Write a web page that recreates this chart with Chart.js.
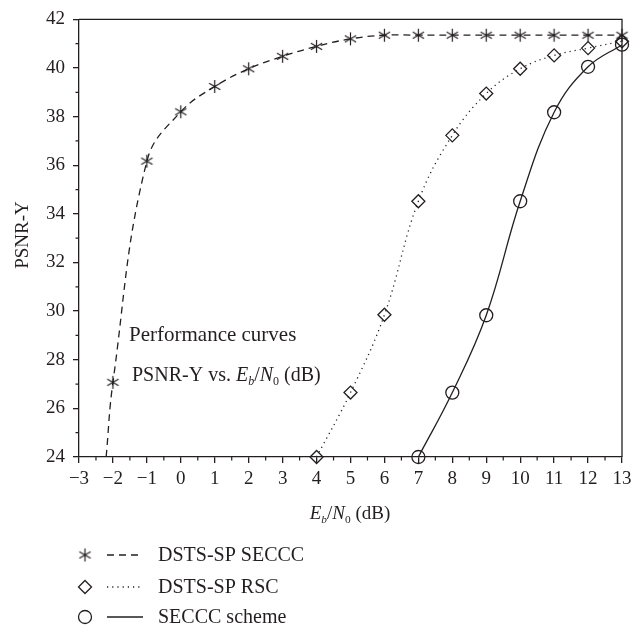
<!DOCTYPE html>
<html>
<head>
<meta charset="utf-8">
<script src="https://cdn.jsdelivr.net/npm/chart.js@4.4.0/dist/chart.umd.min.js"></script>
<style>
  html, body { margin: 0; padding: 0; background: #fff; }
</style>
</head>
<body>
<canvas id="chart" width="644" height="631"></canvas>
<script>
// data (Eb/N0 in dB, PSNR-Y in dB)
var ebnoSECCC = [-2.2, -2, -1, 0, 1, 2, 3, 4, 5, 6, 7, 8, 9, 10, 11, 12, 13]
var psnrSECCC = [24, 27.07, 36.17, 38.2, 39.24, 39.97, 40.48, 40.89, 41.2, 41.35, 41.35, 41.35, 41.35, 41.35, 41.35, 41.35, 41.35]

var ebnoRSC = [4, 5, 6, 7, 8, 9, 10, 11, 12, 13]
var psnrRSC = [24, 26.65, 29.85, 34.52, 37.23, 38.95, 39.97, 40.52, 40.82, 41.1]

var ebnoScheme = [7, 8, 9, 10, 11, 12, 13]
var psnrScheme = [24, 26.65, 29.83, 34.52, 38.18, 40.05, 40.96]

var seriesNames = ['DSTS-SP SECCC', 'DSTS-SP RSC', 'SECCC scheme']

var ink = '#231f20'
var serif = "'Liberation Serif', 'Times New Roman', serif"

function pairs(xs, ys) {
  return xs.map(function (x, i) { return { x: x, y: ys[i] } })
}

// six-armed asterisk marker
function makeStar(r) {
  var c = document.createElement('canvas')
  var s = Math.ceil(r * 2 + 4)
  c.width = s
  c.height = s
  var g = c.getContext('2d')
  g.strokeStyle = ink
  g.lineWidth = 1.2
  var m = s / 2
  ;[90, 30, 150].forEach(function (a) {
    var t = a * Math.PI / 180
    g.beginPath()
    g.moveTo(m - Math.cos(t) * r, m - Math.sin(t) * r)
    g.lineTo(m + Math.cos(t) * r, m + Math.sin(t) * r)
    g.stroke()
  })
  return c
}
var star = makeStar(6.5)

function drawRich(g, parts, x, y, size, align) {
  var w = 0
  parts.forEach(function (p) {
    g.font = (p.i ? 'italic ' : '') + (p.sub ? size * 0.6 : size) + 'px ' + serif
    p.w = g.measureText(p.t).width
    w += p.w
  })
  var cx = align === 'center' ? x - w / 2 : x
  parts.forEach(function (p) {
    g.font = (p.i ? 'italic ' : '') + (p.sub ? size * 0.6 : size) + 'px ' + serif
    g.fillText(p.t, cx, p.sub ? y + size * 0.22 : y)
    cx += p.w
  })
}

var extras = {
  id: 'extras',
  afterDraw: function (chart) {
    var g = chart.ctx
    var a = chart.chartArea
    var xs = chart.scales.x
    var ys = chart.scales.y
    g.save()
    g.strokeStyle = ink
    g.lineWidth = 1.3
    // top and right frame
    g.beginPath()
    g.moveTo(a.left, a.top)
    g.lineTo(a.right, a.top)
    g.lineTo(a.right, a.bottom)
    g.stroke()
    // minor ticks
    g.lineWidth = 1.2
    g.beginPath()
    for (var v = -2.5; v < 13; v += 1) {
      var px = xs.getPixelForValue(v)
      g.moveTo(px, a.bottom)
      g.lineTo(px, a.bottom + 3.5)
    }
    for (var w = 25; w < 42; w += 2) {
      var py = ys.getPixelForValue(w)
      g.moveTo(a.left, py)
      g.lineTo(a.left - 3.5, py)
    }
    g.stroke()

    g.fillStyle = ink
    g.textBaseline = 'alphabetic'
    // axis titles
    drawRich(g, [{ t: 'E', i: true }, { t: 'b', i: true, sub: true }, { t: '/' }, { t: 'N', i: true }, { t: '0', sub: true }, { t: ' (dB)' }], 350, 519, 19, 'center')
    g.save()
    g.translate(28, 235)
    g.rotate(-Math.PI / 2)
    g.font = '19px ' + serif
    g.textAlign = 'center'
    g.fillText('PSNR-Y', 0, 0)
    g.restore()

    // note inside the plot
    g.font = '21px ' + serif
    g.textAlign = 'left'
    g.fillText('Performance curves', 129, 341)
    drawRich(g, [{ t: 'PSNR-Y vs. ' }, { t: 'E', i: true }, { t: 'b', i: true, sub: true }, { t: '/' }, { t: 'N', i: true }, { t: '0', sub: true }, { t: ' (dB)' }], 132, 381, 20, 'left')

    // legend
    var rows = [555, 587, 617]
    var dashes = [[7, 5], [1.2, 4], []]
    rows.forEach(function (ry, i) {
      g.strokeStyle = ink
      g.lineWidth = 1.3
      if (i === 0) {
        g.drawImage(star, 85 - star.width / 2, ry - star.height / 2)
      } else if (i === 1) {
        g.beginPath()
        g.moveTo(85, ry - 6.5); g.lineTo(91.5, ry); g.lineTo(85, ry + 6.5); g.lineTo(78.5, ry); g.closePath()
        g.stroke()
      } else {
        g.beginPath()
        g.arc(85, ry, 6.5, 0, Math.PI * 2)
        g.stroke()
      }
      g.setLineDash(dashes[i])
      g.beginPath()
      g.moveTo(107, ry)
      g.lineTo(143, ry)
      g.stroke()
      g.setLineDash([])
      g.font = '20px ' + serif
      g.textBaseline = 'middle'
      g.fillText(seriesNames[i], 158, ry + 1)
    })
    g.restore()
  }
}

var common = {
  borderColor: ink,
  pointBorderColor: ink,
  pointBackgroundColor: 'rgba(0,0,0,0)',
  borderWidth: 1.3,
  pointBorderWidth: 1.3,
  tension: 0.4,
  clip: false
}

new Chart(document.getElementById('chart').getContext('2d'), {
  type: 'scatter',
  data: {
    datasets: [
      Object.assign({
        label: seriesNames[0],
        data: pairs(ebnoSECCC, psnrSECCC),
        showLine: true,
        borderDash: [7, 5],
        pointStyle: star,
        pointRadius: function (c) { return c.dataIndex === 0 ? 0 : 6.5 }
      }, common),
      Object.assign({
        label: seriesNames[1],
        data: pairs(ebnoRSC, psnrRSC),
        showLine: true,
        borderDash: [1.2, 4],
        pointStyle: 'rectRot',
        pointRadius: 6.5
      }, common),
      Object.assign({
        label: seriesNames[2],
        data: pairs(ebnoScheme, psnrScheme),
        showLine: true,
        pointStyle: 'circle',
        pointRadius: 6.5
      }, common)
    ]
  },
  options: {
    responsive: false,
    animation: false,
    layout: { padding: { left: 0, top: 13, right: 22, bottom: 0 } },
    plugins: { legend: { display: false }, tooltip: { enabled: false } },
    scales: {
      x: {
        type: 'linear',
        min: -3,
        max: 13,
        afterFit: function (s) { s.height = 174 },
        ticks: {
          stepSize: 1,
          color: ink,
          padding: 5,
          maxRotation: 0,
          font: { family: serif, size: 19 },
          callback: function (v) { return String(v).replace('-', '\u2212') }
        },
        grid: { drawOnChartArea: false, tickLength: 6, color: ink, lineWidth: 1.3 },
        border: { color: ink, width: 1.3 }
      },
      y: {
        type: 'linear',
        min: 24,
        max: 42,
        afterFit: function (s) { s.width = 79 },
        ticks: {
          stepSize: 2,
          color: ink,
          padding: 8,
          font: { family: serif, size: 19 }
        },
        grid: { drawOnChartArea: false, tickLength: 6, color: ink, lineWidth: 1.3 },
        border: { color: ink, width: 1.3 }
      }
    }
  },
  plugins: [extras]
})
</script>
</body>
</html>
